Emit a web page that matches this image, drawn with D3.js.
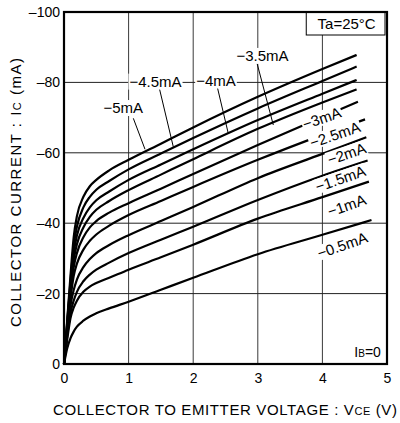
<!DOCTYPE html>
<html><head><meta charset="utf-8">
<script src="https://cdn.jsdelivr.net/npm/d3@7"></script>
<style>
body{margin:0;background:#fff;}
svg{display:block;font-family:"Liberation Sans",Arial,Helvetica,sans-serif;}
</style></head>
<body><svg id="chart" width="400" height="423"></svg>
<script>
// ---- data ----
const baseCurrentLabels = ["−0.5mA","−1mA","−1.5mA","−2mA","−2.5mA","−3mA","−3.5mA","−4mA","−4.5mA","−5mA"];
const vceGrid = [0,0.05,0.1,0.15,0.2,0.3,0.4,0.5,0.7,1,1.5,2,3,4];
const vceEnd  = [4.76,4.72,4.70,4.68,4.66,4.55,4.53,4.53,4.53,4.53];
const ic_0_5 = [0,4.5,7.3,9.2,10.6,12.3,13.5,14.4,15.8,17.7,21.1,24.5,31.2,36.7,40.9];
const ic_1_0 = [0,7,13,16,18,20.5,22,23,24.5,26.8,30.3,33.9,41.3,47.4,51.8];
const ic_1_5 = [0,8,14.5,18,20.5,23.5,25.4,26.8,28.8,31.5,35.3,39,46.6,53.5,57.8];
const ic_2_0 = [0,9,16.5,21,24,27.5,29.8,31.5,33.8,36.6,40.6,44.6,52.8,59.7,64.4];
const ic_2_5 = [0,10,18.5,25,28.5,32.5,35,36.8,39.3,42.3,46.3,50.3,58,65.1,69.5];
const ic_3_0 = [0,10.5,20.5,27.5,31.5,36,38.8,40.6,43,45.7,49.8,54,62.2,70.2,74.5];
const ic_3_5 = [0,11,21.5,29.5,34,38.8,41.8,43.8,46.3,49.4,53.8,58.2,66.8,74.3,78.0];
const ic_4_0 = [0,11.5,22.5,31.5,36.5,41.5,44.5,46.5,49,52.3,56.7,61,69.3,76.8,80.7];
const ic_4_5 = [0,12,23.5,33.5,39,44.5,47.5,49.5,52,55.3,59.8,64.2,72.6,80.4,84.5];
const ic_5_0 = [0,12.5,25,36,42,47.5,50.5,52.3,55,58,62.6,67.2,75.9,83.8,87.8];
const icSeries = [ic_0_5,ic_1_0,ic_1_5,ic_2_0,ic_2_5,ic_3_0,ic_3_5,ic_4_0,ic_4_5,ic_5_0];
const xTicks = [0,1,2,3,4,5];
const xTickLabels = ["0","1","2","3","4","5"];
const yTicks = [0,20,40,60,80,100];
const yTickLabels = ["0","–20","–40","–60","–80","–100"];

// ---- layout ----
const svg = d3.select("#chart");
const x = d3.scaleLinear().domain([0,5]).range([64,387]);
const y = d3.scaleLinear().domain([0,100]).range([364,12]);

// grid
const grid = svg.append("g");
grid.selectAll("line.v").data(xTicks.slice(1,-1)).join("line")
  .attr("x1",d=>x(d)).attr("x2",d=>x(d)).attr("y1",y(0)).attr("y2",y(100))
  .attr("stroke","#3a3a3a").attr("stroke-width",1);
grid.selectAll("line.h").data(yTicks.slice(1,-1)).join("line")
  .attr("x1",x(0)).attr("x2",x(5)).attr("y1",d=>y(d)).attr("y2",d=>y(d))
  .attr("stroke","#222").attr("stroke-width",1);

// axes tick labels
const yAxis = d3.axisLeft(y).tickValues(yTicks).tickSize(0).tickPadding(4)
  .tickFormat((d,i)=>yTickLabels[i]);
const gy = svg.append("g").attr("transform",`translate(${x(0)},0)`).call(yAxis);
gy.select(".domain").remove();
gy.selectAll("text").attr("font-size",14).attr("font-family","Liberation Sans, Arial, sans-serif").attr("fill","#000");
const xAxis = d3.axisBottom(x).tickValues(xTicks).tickSize(0).tickPadding(9)
  .tickFormat((d,i)=>xTickLabels[i]);
const gx = svg.append("g").attr("transform",`translate(0,${y(0)})`).call(xAxis);
gx.select(".domain").remove();
gx.selectAll("text").attr("font-size",14).attr("font-family","Liberation Sans, Arial, sans-serif").attr("fill","#000");

// curves
const line = d3.line().x(d=>x(d[0])).y(d=>y(d[1])).curve(d3.curveMonotoneX);
const curves = icSeries.map((arr,i)=>arr.map((v,j)=>[j<vceGrid.length?vceGrid[j]:vceEnd[i], v]));
svg.append("g").selectAll("path").data(curves).join("path")
  .attr("d",line).attr("fill","none").attr("stroke","#000").attr("stroke-width",2.2)
  .attr("stroke-linejoin","round");

// rotated labels (lower curves)
const rotLabels = [
  {t:baseCurrentLabels[5], v:3.99, i:69.8},
  {t:baseCurrentLabels[4], v:4.195, i:65.1},
  {t:baseCurrentLabels[3], v:4.376, i:59.7},
  {t:baseCurrentLabels[2], v:4.28, i:52.6},
  {t:baseCurrentLabels[1], v:4.376, i:45.0},
  {t:baseCurrentLabels[0], v:4.31, i:33.7}
];
rotLabels.forEach(L=>{
  const g = svg.append("g").attr("transform",`translate(${x(L.v)},${y(L.i)}) rotate(-19)`);
  const rect = g.append("rect").attr("fill","#fff");
  const txt = g.append("text").text(L.t).attr("text-anchor","middle").attr("dy","0.35em")
    .attr("font-size",15).attr("fill","#000");
  const b = txt.node().getBBox();
  rect.attr("x",b.x-1).attr("y",b.y+1).attr("width",b.width+2).attr("height",b.height-2);
});

// horizontal labels with leaders (upper curves)
const hLabels = [
  {t:baseCurrentLabels[9], v:0.917, i:71.3, l:[[1.073,69.8],[1.254,61.0]]},
  {t:baseCurrentLabels[8], v:1.416, i:78.8, l:[[1.475,78.4],[1.692,61.7]]},
  {t:baseCurrentLabels[7], v:2.353, i:79.1, l:[[2.373,78.7],[2.543,65.5]]},
  {t:baseCurrentLabels[6], v:3.073, i:86.1, l:[[2.983,85.8],[3.24,67.9]]}
];
hLabels.forEach(L=>{
  svg.append("line").attr("x1",x(L.l[0][0])).attr("y1",y(L.l[0][1]))
    .attr("x2",x(L.l[1][0])).attr("y2",y(L.l[1][1])).attr("stroke","#000").attr("stroke-width",1);
  const g = svg.append("g");
  const rect = g.append("rect").attr("fill","#fff");
  const txt = g.append("text").text(L.t).attr("x",x(L.v)).attr("y",y(L.i))
    .attr("text-anchor","middle").attr("font-size",15).attr("fill","#000");
  const b = txt.node().getBBox();
  rect.attr("x",b.x-1).attr("y",b.y+1).attr("width",b.width+2).attr("height",b.height-1);
});

// Ta box
svg.append("rect").attr("x",x(3.75)).attr("y",y(100)).attr("width",x(5)-x(3.75)-2).attr("height",23)
  .attr("fill","#fff").attr("stroke","#000").attr("stroke-width",1);
svg.append("text").attr("x",(x(3.75)+x(5))/2).attr("y",y(100)+17).attr("text-anchor","middle")
  .attr("font-size",15).text("Ta=25°C");

// IB=0
const ib = svg.append("text").attr("x",x(4.7)).attr("y",y(2)).attr("text-anchor","middle").attr("font-size",14);
ib.append("tspan").text("I");
ib.append("tspan").attr("font-size",10).text("B");
ib.append("tspan").text("=0");

// frame
svg.append("rect").attr("x",x(0)).attr("y",y(100)).attr("width",x(5)-x(0)).attr("height",y(0)-y(100))
  .attr("fill","none").attr("stroke","#000").attr("stroke-width",2.2);

// axis titles
const xt = svg.append("text").attr("x",53).attr("y",415).attr("font-size",15)
  .attr("textLength",344).attr("lengthAdjust","spacing");
xt.append("tspan").text("COLLECTOR TO EMITTER VOLTAGE : V");
xt.append("tspan").attr("font-size",11).text("CE");
xt.append("tspan").text(" (V)");
const yt = svg.append("text").attr("transform","translate(21,327) rotate(-90)").attr("font-size",15)
  .attr("textLength",269).attr("lengthAdjust","spacing");
yt.append("tspan").text("COLLECTOR CURRENT : I");
yt.append("tspan").attr("font-size",11).text("C");
yt.append("tspan").text(" (mA)");
</script></body></html>
